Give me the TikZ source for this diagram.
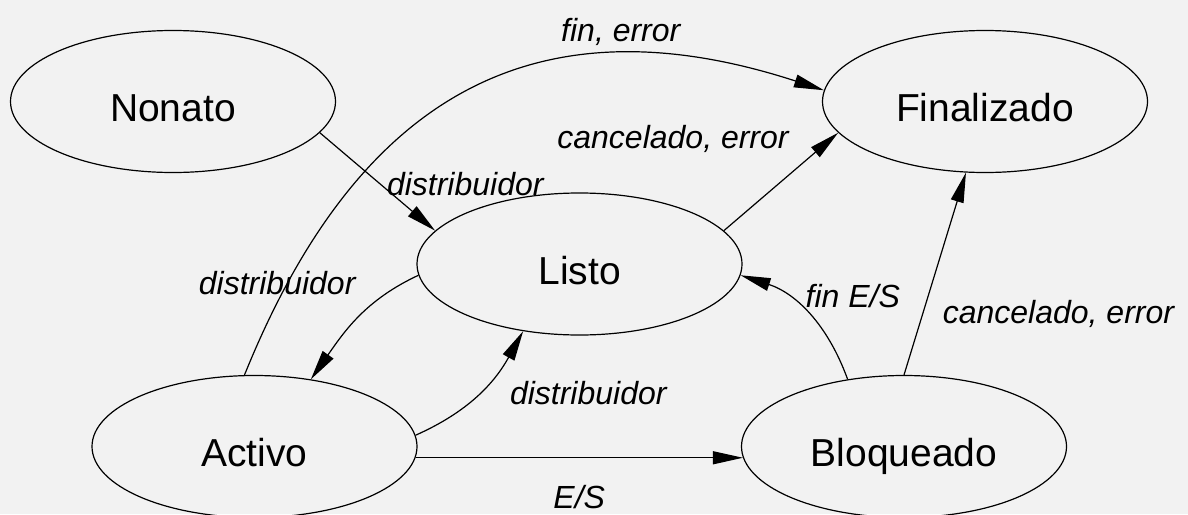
\documentclass[tikz,border=0pt]{standalone}
\usepackage{fontspec}
\setmainfont{Liberation Sans}
\usepackage{tikz}
\usetikzlibrary{
        arrows.meta,
        positioning,
        shapes.geometric
    }
\definecolor{fondo}{HTML}{F2F2F2}
\tikzset{>={Triangle[length=15pt,width=6.5pt]}}
\tikzset{proc/.style={ellipse,draw,minimum width=162.5pt,minimum height=71pt,inner sep=0pt,
        text height=20pt,text depth=0pt,font=\fontsize{19.5pt}{22pt}\selectfont}}
\tikzset{etiq/.style={font=\fontsize{16pt}{18pt}\selectfont\itshape}}

\begin{document}
\begin{tikzpicture}[x=0.5pt,y=0.5pt,line width=0.6pt]
                \fill[fondo] (0,0) rectangle (1188,-514);
                \useasboundingbox (0,0) rectangle (1188,-514);
                \node[proc] (nonato) at (173,-101.5)   {Nonato};
                \node[proc] (final)  at (985,-101.5)   {Finalizado};
                \node[proc] (listo)  at (579.5,-264)   {Listo};
                \node[proc] (activo) at (254.5,-446.5) {Activo};
                \node[proc] (bloq)   at (904,-446.5)   {Bloqueado};
                \path[->]
                    (nonato.-12) edge node[etiq,pos=0.52,anchor=west] {distribuidor} (listo.167)
                    (listo.13) edge node[etiq,pos=0.7,anchor=south east,xshift=-4pt,yshift=1pt] {cancelado, error} (final.192)
                    (activo.98) edge[out=68,in=162,looseness=1.2] node[etiq,pos=0.75,anchor=south,xshift=-3.5pt,yshift=1.5pt] {fin, error} (final.176)
                    (listo.184) edge[out=205,in=55] node[etiq,pos=0.05,left=24pt,yshift=-2pt] {distribuidor} (activo.50)
                    (activo.4) edge[out=24,in=241] node[etiq,pos=0.5,anchor=west,xshift=12pt] {distribuidor} (listo.230)
                    (activo.-4) edge node[etiq,below=10pt] {E/S} (bloq.184)
                    (bloq.130) edge[out=110,in=-18] node[etiq,pos=0.6,anchor=west,xshift=1pt,yshift=4pt] {fin E/S} (listo.-4)
                    (bloq.90) edge node[etiq,pos=0.3,anchor=west,xshift=6.5pt] {cancelado, error} (final.255);
            \end{tikzpicture}
\end{document}
